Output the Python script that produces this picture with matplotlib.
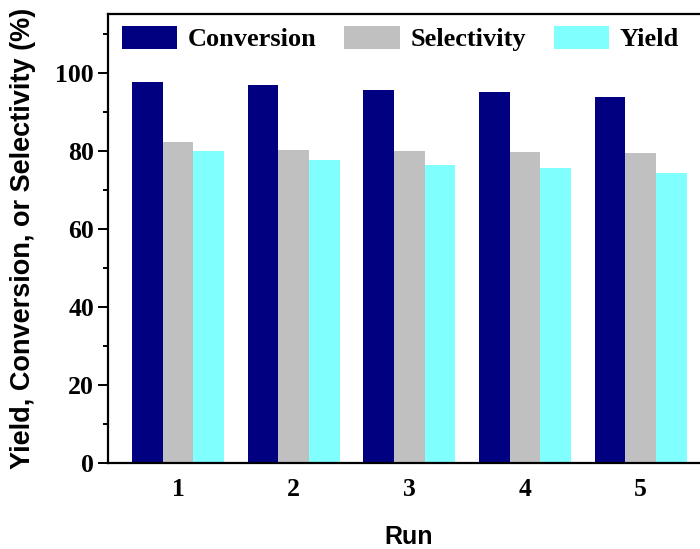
import numpy as np
import matplotlib.pyplot as plt
from matplotlib.ticker import MultipleLocator

runs = [1, 2, 3, 4, 5]
conversion = [97.5, 96.9, 95.5, 95.0, 93.7]
selectivity = [82.1, 80.2, 79.9, 79.7, 79.4]
yield_pct = [80.0, 77.7, 76.2, 75.6, 74.3]

serif = 'Liberation Serif'
sans = 'Liberation Sans'

fig = plt.figure(figsize=(7.0, 5.49), dpi=100)
# axes run slightly past the right edge of the figure
ax = fig.add_axes([108 / 700, 86 / 549, 602 / 700, 449 / 549])

x = np.array(runs, dtype=float)
w = 0.265
ax.bar(x - w, conversion, w, color='#000080', label='Conversion')
ax.bar(x, selectivity, w, color='#c0c0c0', label='Selectivity')
ax.bar(x + w, yield_pct, w, color='#80ffff', label='Yield')

ax.set_xlim(0.395, 5.6)
ax.set_ylim(0, 115)
ax.set_xticks(runs)
ax.yaxis.set_major_locator(MultipleLocator(20))
ax.yaxis.set_minor_locator(MultipleLocator(10))
ax.set_yticks([0, 20, 40, 60, 80, 100])

for s in ['left', 'top', 'bottom', 'right']:
    ax.spines[s].set_linewidth(1.6)

ax.tick_params(axis='x', length=0, pad=11)
ax.tick_params(axis='y', which='major', direction='out', length=7, width=1.4, pad=3)
ax.tick_params(axis='y', which='minor', direction='out', length=3.5, width=1.4)
for lab in ax.get_xticklabels() + ax.get_yticklabels():
    lab.set_fontfamily(serif)
    lab.set_fontweight('bold')
    lab.set_fontsize(18.5)

ax.set_xlabel('Run', fontfamily=sans, fontweight='bold', fontsize=18, labelpad=17)
ax.set_ylabel('Yield, Conversion, or Selectivity (%)', fontfamily=sans,
              fontweight='bold', fontsize=19.5, labelpad=14)

ax.legend(loc='upper left', bbox_to_anchor=(122 / 700, 1 - 26 / 549),
          bbox_transform=fig.transFigure, ncol=3, frameon=False,
          borderpad=0, borderaxespad=0, handlelength=2.1, handleheight=0.95,
          handletextpad=0.4, columnspacing=1.05,
          prop={'family': serif, 'weight': 'bold', 'size': 19})

fig.savefig('out.png', dpi=100)
